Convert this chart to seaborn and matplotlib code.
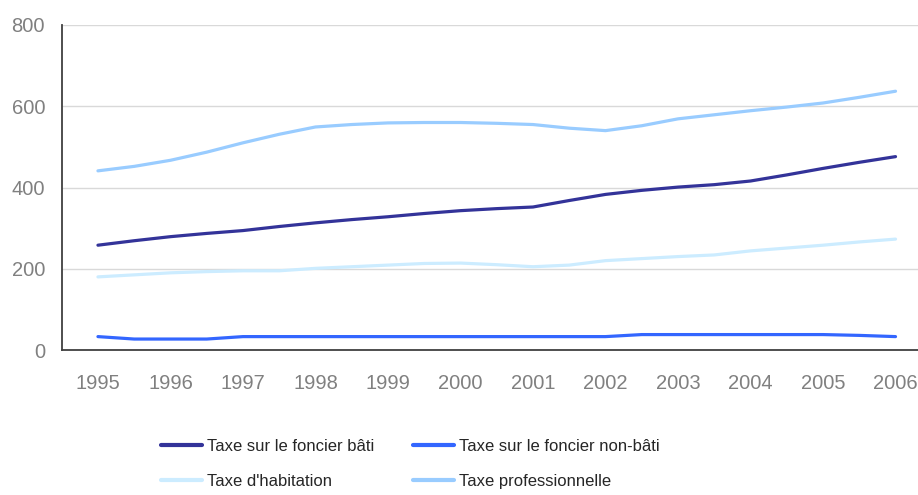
import numpy as np
import pandas as pd
import matplotlib
matplotlib.use("Agg")
import matplotlib.pyplot as plt
from matplotlib.lines import Line2D
import seaborn as sns

# half-year points, 1995 -> 2006
periods = [1995 + 0.5 * i for i in range(23)]
years = list(range(1995, 2007))

foncier_bati = [258, 269, 279, 287, 294, 304, 313, 321, 328, 336, 343, 348,
                352, 368, 383, 393, 401, 407, 416, 431, 447, 462, 476]
foncier_non_bati = [33, 27, 27, 27, 33, 33, 33, 33, 33, 33, 33, 33,
                    33, 33, 33, 38, 38, 38, 38, 38, 38, 36, 33]
habitation = [180, 185, 190, 193, 195, 195, 201, 205, 209, 213, 214, 210,
              205, 209, 220, 225, 230, 234, 244, 251, 258, 266, 273]
professionnelle = [441, 452, 467, 487, 510, 531, 549, 555, 559, 560, 560, 558,
                   555, 546, 540, 552, 569, 579, 589, 598, 608, 622, 637]

series = ["Taxe sur le foncier bâti", "Taxe sur le foncier non-bâti",
          "Taxe d'habitation", "Taxe professionnelle"]
colors = {"Taxe sur le foncier bâti": "#333399",
          "Taxe sur le foncier non-bâti": "#3366FF",
          "Taxe d'habitation": "#CCECFF",
          "Taxe professionnelle": "#99CCFF"}

df = pd.DataFrame({"periode": periods,
                   series[0]: foncier_bati,
                   series[1]: foncier_non_bati,
                   series[2]: habitation,
                   series[3]: professionnelle})
long_df = df.melt(id_vars="periode", var_name="taxe", value_name="valeur")

sns.set_style("white")
plt.rcParams["font.family"] = ["Liberation Sans", "DejaVu Sans"]

fig = plt.figure(figsize=(9.18, 4.95), dpi=100)
ax = fig.add_axes([0.0672, 0.2929, 0.9328, 0.6566])

sns.lineplot(data=long_df, x="periode", y="valeur", hue="taxe", hue_order=series,
             palette=colors, linewidth=2.3, legend=False, ax=ax,
             solid_capstyle="round")

ax.set_xlim(1994.5, 2006.31)
ax.set_ylim(0, 800)
ax.set_yticks([0, 200, 400, 600, 800])
ax.yaxis.grid(True, color="#D9D9D9", linewidth=1)
ax.set_axisbelow(True)

# year labels centred in each category, tick marks on the boundaries
ax.set_xticks(years)
ax.set_xticklabels([str(y) for y in years])
ax.set_xticks([y - 0.5 for y in years], minor=True)
ax.tick_params(axis="x", which="major", length=0, pad=17, labelsize=14.5, labelcolor="#808080")
ax.tick_params(axis="x", which="minor", length=6, width=1.2, color="#404040", direction="out")
ax.tick_params(axis="y", length=6, width=1.2, color="#404040", direction="out", pad=6,
               labelsize=14.5, labelcolor="#808080")
ax.set_xlabel("")
ax.set_ylabel("")

for side in ["top", "right"]:
    ax.spines[side].set_visible(False)
for side in ["left", "bottom"]:
    ax.spines[side].set_color("#404040")
    ax.spines[side].set_linewidth(1.3)

legend_order = [series[0], series[2], series[1], series[3]]
handles = [Line2D([0], [0], color=colors[s], linewidth=3) for s in legend_order]
fig.legend(handles, legend_order, loc="center", bbox_to_anchor=(0.447, 0.0636),
           ncol=2, frameon=False, fontsize=12, handlelength=2.5, handletextpad=0.3,
           columnspacing=2.3, labelspacing=1.2)

fig.savefig("out.png", dpi=100)
